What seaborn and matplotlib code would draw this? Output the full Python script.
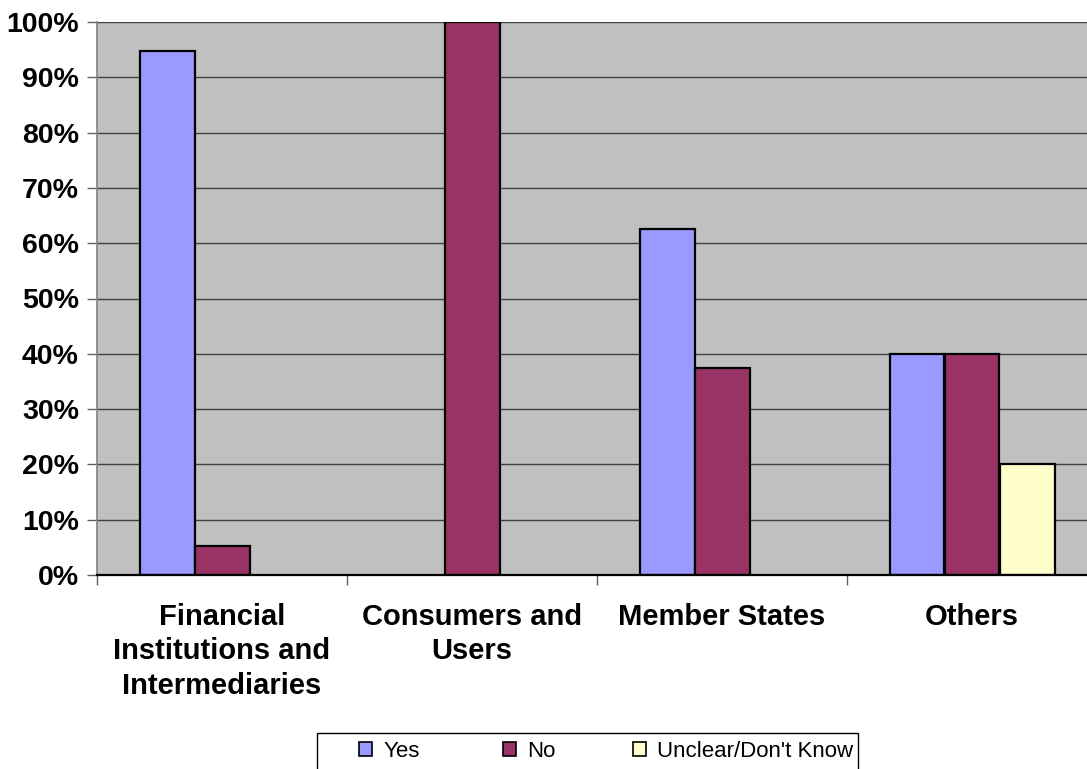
import matplotlib
matplotlib.use("Agg")
import matplotlib.pyplot as plt
import pandas as pd
import seaborn as sns
from matplotlib.patches import Patch, Rectangle
from matplotlib.ticker import FixedLocator, PercentFormatter

GROUPS = [
    "Financial\nInstitutions and\nIntermediaries",
    "Consumers and\nUsers",
    "Member States",
    "Others",
]
ANSWERS = ["Yes", "No", "Unclear/Don't Know"]
YES = [94.7, 0.0, 62.5, 40.0]
NO = [5.3, 100.0, 37.5, 40.0]
UNCLEAR = [0.0, 0.0, 0.0, 20.0]
COLORS = ["#9999FF", "#993366", "#FFFFCC"]

W, H = 1087, 769
LEGEND_X = [359, 503, 633]  # pixel x of each legend swatch


def build_frame() -> pd.DataFrame:
    rows = []
    for answer, values in zip(ANSWERS, [YES, NO, UNCLEAR]):
        for group, value in zip(GROUPS, values):
            rows.append({"group": group, "answer": answer, "value": value / 100})
    return pd.DataFrame(rows)


def main() -> None:
    sns.set_theme(style="white")
    plt.rcParams["font.family"] = ["Liberation Sans", "DejaVu Sans"]
    plt.rcParams["text.color"] = "black"

    df = build_frame()
    fig = plt.figure(figsize=(W / 100, H / 100), dpi=100)
    # plot area runs slightly past the right edge of the image, as in the reference
    ax = fig.add_axes([97 / W, 1 - 575 / H, 1000 / W, (575 - 22) / H])
    ax.set_facecolor("#C0C0C0")

    sns.barplot(
        data=df, x="group", y="value", hue="answer", hue_order=ANSWERS,
        order=GROUPS, palette=COLORS, saturation=1, width=0.66,
        edgecolor="black", linewidth=1.6, ax=ax, legend=False,
    )
    for patch in ax.patches:
        if patch.get_height() == 0:
            patch.set_visible(False)

    ax.set_ylim(0, 1)
    ax.set_xlim(-0.5, 3.5)
    ax.set_yticks([i / 10 for i in range(11)])
    ax.yaxis.set_major_formatter(PercentFormatter(1.0, decimals=0))
    ax.yaxis.grid(True, color="#404040", linewidth=1)
    ax.set_axisbelow(True)

    ax.set_xlabel("")
    ax.set_ylabel("")
    ax.tick_params(axis="y", labelsize=20.5, length=7, width=1, color="#606060",
                   labelcolor="black", direction="out", pad=6, left=True)
    ax.tick_params(axis="x", which="major", length=0, labelsize=21,
                   labelcolor="black", pad=20)
    ax.xaxis.set_minor_locator(FixedLocator([-0.5, 0.5, 1.5, 2.5]))
    ax.tick_params(axis="x", which="minor", length=7, width=1, color="#606060",
                   direction="out", bottom=True)
    for label in ax.get_yticklabels() + ax.get_xticklabels():
        label.set_fontweight("bold")
    for label in ax.get_xticklabels():
        label.set_linespacing(1.3)

    for side in ["top", "right"]:
        ax.spines[side].set_visible(False)
    ax.spines["left"].set_color("#808080")
    ax.spines["left"].set_linewidth(1.2)
    ax.spines["bottom"].set_color("black")
    ax.spines["bottom"].set_linewidth(1.6)

    # legend box is cut by the bottom edge of the image
    fig.add_artist(Rectangle((317 / W, -0.02), (858 - 317) / W, 0.02 + 1 - 733 / H,
                             transform=fig.transFigure, facecolor="white",
                             edgecolor="black", linewidth=1, zorder=1))
    for color, answer, x in zip(COLORS, ANSWERS, LEGEND_X):
        handle = Patch(facecolor=color, edgecolor="black", linewidth=1.2)
        fig.legend(
            [handle], [answer], loc="upper left",
            bbox_to_anchor=(x / W, 1 - 741 / H), fontsize=16,
            frameon=False, handlelength=0.6, handleheight=0.6,
            handletextpad=0.5, borderpad=0, borderaxespad=0,
        ).set_zorder(2)

    fig.savefig("out.png", dpi=100)
    plt.close(fig)


if __name__ == "__main__":
    main()
